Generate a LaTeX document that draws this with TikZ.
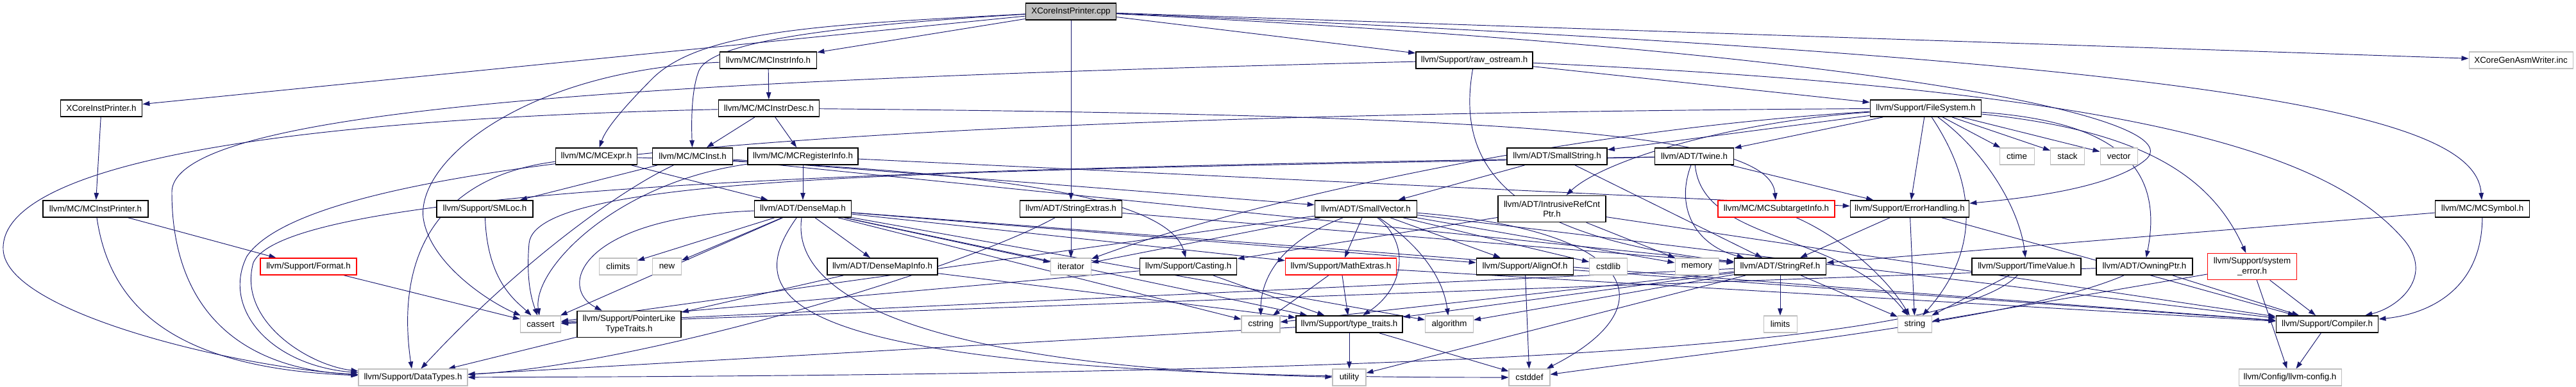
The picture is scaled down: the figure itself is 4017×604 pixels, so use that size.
\documentclass[tikz,border=0pt]{standalone}
\usepackage{fontspec}
\setmainfont{Liberation Sans}
\usetikzlibrary{arrows.meta}
\definecolor{depedge}{HTML}{191970}
\definecolor{sysgray}{HTML}{BFBFBF}
\pgfdeclarelayer{edges}
\pgfsetlayers{edges,main}

\begin{document}
\begin{tikzpicture}[
    x=0.01cm, y=-0.01cm,
    inc/.style={draw=black, line width=0.5pt, fill=white, inner sep=0pt,
      minimum height=0.26cm, align=center,
      font=\fontsize{3.8}{4.4}\selectfont},
    sys/.style={inc, draw=sysgray, line width=0.3pt},
    trunc/.style={inc, draw=red, line width=0.4pt},
    root/.style={inc, fill=sysgray},
    tall/.style={minimum height=0.41cm},
    bw/.style={minimum width=#1*0.01cm},
    dep/.style={draw=depedge, line width=0.27pt,
      -{Triangle[length=0.11cm,width=0.075cm]}},
  ]
  \useasboundingbox (0,0) rectangle (4017,604);

  % headers, one row per rank, 1 unit = 1 px of the graph
  \node[root, bw=141] (cpp) at (1670,18) {XCoreInstPrinter.cpp};

  \node[inc, bw=151] (instrinfo) at (1198,94) {llvm/MC/MCInstrInfo.h};
  \node[inc, bw=182] (rawos) at (2299,94) {llvm/Support/raw\_ostream.h};
  \node[sys, bw=162] (genasm) at (3931,94) {XCoreGenAsmWriter.inc};

  \node[inc, bw=127] (xh) at (158,169) {XCoreInstPrinter.h};
  \node[inc, bw=157] (instrdesc) at (1199,169) {llvm/MC/MCInstrDesc.h};
  \node[inc, bw=173] (fs) at (3003,169) {llvm/Support/FileSystem.h};

  \node[inc, bw=127] (mcexpr) at (930,244) {llvm/MC/MCExpr.h};
  \node[inc, bw=125] (mcinst) at (1080,244) {llvm/MC/MCInst.h};
  \node[inc, bw=172] (reginfo) at (1252,244) {llvm/MC/MCRegisterInfo.h};
  \node[inc, bw=156] (smallstr) at (2428,244) {llvm/ADT/SmallString.h};
  \node[inc, bw=123] (twine) at (2642,244) {llvm/ADT/Twine.h};
  \node[sys, bw=54] (ctime) at (3145,244) {ctime};
  \node[sys, bw=53] (stack) at (3224,244) {stack};
  \node[sys, bw=58] (vector) at (3304,244) {vector};

  \node[inc, bw=164] (instprinter) at (149,326) {llvm/MC/MCInstPrinter.h};
  \node[inc, bw=150] (smloc) at (756,326) {llvm/Support/SMLoc.h};
  \node[inc, bw=151] (densemap) at (1252,326) {llvm/ADT/DenseMap.h};
  \node[inc, bw=159] (strextras) at (1670,326) {llvm/ADT/StringExtras.h};
  \node[inc, bw=159] (smallvec) at (2130,326) {llvm/ADT/SmallVector.h};
  \node[inc, tall, bw=168] (intrusive) at (2420,326) {llvm/ADT/IntrusiveRefCnt\\Ptr.h};
  \node[trunc, bw=182] (subtarget) at (2770,326) {llvm/MC/MCSubtargetInfo.h};
  \node[inc, bw=185] (errhand) at (2978,326) {llvm/Support/ErrorHandling.h};
  \node[inc, bw=147] (mcsymbol) at (3871,326) {llvm/MC/MCSymbol.h};

  \node[trunc, bw=150] (format) at (481,416) {llvm/Support/Format.h};
  \node[sys, bw=59] (climits) at (964,416) {climits};
  \node[sys, bw=45] (newh) at (1040,416) {new};
  \node[inc, bw=172] (dmapinfo) at (1376,416) {llvm/ADT/DenseMapInfo.h};
  \node[sys, bw=63] (iterator) at (1670,416) {iterator};
  \node[inc, bw=151] (casting) at (1853,416) {llvm/Support/Casting.h};
  \node[trunc, bw=173] (mathext) at (2091,416) {llvm/Support/MathExtras.h};
  \node[inc, bw=151] (alignof) at (2378,416) {llvm/Support/AlignOf.h};
  \node[sys, bw=59] (cstdlib) at (2508,416) {cstdlib};
  \node[sys, bw=68] (memory) at (2646,416) {memory};
  \node[inc, bw=143] (stringref) at (2776,416) {llvm/ADT/StringRef.h};
  \node[inc, bw=170] (timevalue) at (3160,416) {llvm/Support/TimeValue.h};
  \node[inc, bw=150] (owningptr) at (3344,416) {llvm/ADT/OwningPtr.h};
  \node[trunc, tall, bw=139] (syserror) at (3512,416) {llvm/Support/system\\\_error.h};

  \node[sys, bw=63] (cassert) at (843,506) {cassert};
  \node[inc, tall, bw=162] (ptrlike) at (981,506) {llvm/Support/PointerLike\\TypeTraits.h};
  \node[sys, bw=60] (cstring) at (1966,506) {cstring};
  \node[inc, bw=166] (typetraits) at (2104,506) {llvm/Support/type\_traits.h};
  \node[sys, bw=75] (algorithm) at (2260,506) {algorithm};
  \node[sys, bw=52] (limits) at (2776,506) {limits};
  \node[sys, bw=53] (string) at (2986,506) {string};
  \node[inc, bw=159] (compiler) at (3629,506) {llvm/Support/Compiler.h};

  \node[sys, bw=170] (datatypes) at (644,589) {llvm/Support/DataTypes.h};
  \node[sys, bw=52] (utility) at (2104,589) {utility};
  \node[sys, bw=64] (cstddef) at (2385,589) {cstddef};
  \node[sys, bw=160] (llvmconfig) at (3571,589) {llvm/Config/llvm-config.h};

  \begin{pgfonlayer}{edges}
  % straight include edges
  \foreach \a/\b in {cpp/xh, cpp/instrinfo, cpp/strextras, cpp/rawos, cpp/genasm,
      xh/instprinter, instprinter/format, format/cassert,
      instrinfo/instrdesc, instrdesc/mcinst, instrdesc/reginfo,
      mcexpr/densemap, mcinst/smloc, mcinst/smallvec, mcinst/stringref,
      reginfo/densemap, reginfo/errhand,
      densemap/climits, densemap/newh, densemap/dmapinfo, densemap/cassert,
      densemap/iterator, densemap/cstring, densemap/mathext, densemap/alignof,
      densemap/typetraits, densemap/algorithm, densemap/compiler,
      dmapinfo/ptrlike, dmapinfo/typetraits, ptrlike/datatypes,
      strextras/iterator, strextras/stringref, rawos/fs,
      fs/smallstr, fs/twine, fs/errhand, fs/ctime, fs/stack, fs/vector,
      smallstr/smallvec, smallstr/stringref, twine/errhand,
      intrusive/casting, intrusive/memory, intrusive/compiler,
      owningptr/compiler, owningptr/cassert, timevalue/string,
      syserror/string, syserror/compiler, syserror/llvmconfig,
      compiler/llvmconfig, mcsymbol/stringref,
      errhand/stringref, errhand/string, errhand/compiler,
      stringref/limits, stringref/string, stringref/typetraits,
      stringref/algorithm, stringref/cassert, stringref/cstring, stringref/utility,
      smallvec/mathext, smallvec/alignof, smallvec/cstdlib, smallvec/memory,
      smallvec/cassert, smallvec/iterator, smallvec/compiler,
      mathext/cstring, mathext/typetraits, mathext/compiler,
      alignof/cstddef, alignof/compiler, casting/cassert, casting/typetraits,
      typetraits/utility, typetraits/cstddef, typetraits/datatypes}
    \draw[dep] (\a) -- (\b);

  % bent edges
  \draw[dep] (cpp) .. controls (1300,38) and (1100,45) .. (1020,120)
    .. controls (975,165) and (945,200) .. (mcexpr);
  \draw[dep] (cpp) .. controls (1300,40) and (1110,65) .. (1090,110)
    .. controls (1078,140) and (1078,190) .. (mcinst);
  \draw[dep] (cpp) .. controls (3500,95) and (3860,180) .. (mcsymbol);
  \draw[dep] (cpp) .. controls (3000,85) and (3420,190) .. (3345,250)
    .. controls (3290,295) and (3150,310) .. (errhand);
  \draw[dep] (instprinter) .. controls (170,470) and (260,575) .. (datatypes);
  \draw[dep] (instrinfo) .. controls (820,110) and (650,250) .. (660,340)
    .. controls (670,410) and (760,470) .. (cassert);
  \draw[dep] (instrdesc) .. controls (2400,180) and (2760,210) .. (subtarget);
  \draw[dep] (instrdesc) .. controls (250,190) and (0,290) .. (5,390)
    .. controls (10,490) and (380,575) .. (datatypes);
  \draw[dep] (mcexpr) .. controls (1500,262) and (1820,300) .. (casting);
  \draw[dep] (mcexpr) .. controls (690,275) and (615,390) .. (datatypes);
  \draw[dep] (mcinst) .. controls (960,300) and (800,420) .. (datatypes);
  \draw[dep] (reginfo) .. controls (960,285) and (830,420) .. (cassert);
  \draw[dep] (smloc) .. controls (760,440) and (805,470) .. (cassert);
  \draw[dep] (densemap) .. controls (900,340) and (870,450) .. (ptrlike);
  \draw[dep] (densemap) .. controls (1230,480) and (1500,575) .. (utility);
  \draw[dep] (densemap) .. controls (1150,470) and (1200,590) .. (cstddef);
  \draw[dep] (strextras) .. controls (1500,420) and (1000,570) .. (datatypes);
  \draw[dep] (rawos) .. controls (1000,125) and (268,170) .. (268,300)
    .. controls (268,470) and (360,575) .. (datatypes);
  \draw[dep] (rawos) .. controls (2270,260) and (2350,370) .. (stringref);
  \draw[dep] (rawos) .. controls (3300,140) and (3620,230) .. (3745,370)
    .. controls (3800,430) and (3740,480) .. (compiler);
  \draw[dep] (fs) .. controls (2700,190) and (2500,250) .. (intrusive);
  \draw[dep] (fs) .. controls (1200,180) and (480,260) .. (385,400)
    .. controls (345,480) and (420,570) .. (datatypes);
  \draw[dep] (fs) .. controls (3090,300) and (3080,400) .. (string);
  \draw[dep] (fs) .. controls (3100,240) and (3150,330) .. (timevalue);
  \draw[dep] (fs) .. controls (3300,190) and (3375,260) .. (owningptr);
  \draw[dep] (fs) .. controls (3350,205) and (3450,280) .. (syserror);
  \draw[dep] (fs) .. controls (2400,205) and (1900,330) .. (iterator);
  \draw[dep] (twine) .. controls (2610,330) and (2650,385) .. (stringref);
  \draw[dep] (twine) .. controls (2655,380) and (2870,360) .. (string);
  \draw[dep] (twine) .. controls (1500,262) and (450,285) .. (395,410)
    .. controls (370,500) and (480,570) .. (datatypes);
  \draw[dep] (twine) .. controls (1500,268) and (835,268) .. (825,380)
    .. controls (820,440) and (830,470) .. (cassert);
  \draw[dep] (owningptr) .. controls (3150,500) and (2700,545) .. (cstddef);
  \draw[dep] (timevalue) .. controls (3050,525) and (2500,585) .. (datatypes);
  \draw[dep] (mcsymbol) .. controls (3870,450) and (3790,490) .. (compiler);
  \draw[dep] (subtarget) .. controls (2870,370) and (2940,430) .. (string);
  \draw[dep] (smallvec) .. controls (1990,380) and (1966,440) .. (cstring);
  \draw[dep] (smallvec) .. controls (2200,380) and (2190,450) .. (typetraits);
  \draw[dep] (smallvec) .. controls (2210,380) and (2250,430) .. (algorithm);
  \draw[dep] (smallvec) .. controls (2560,360) and (2600,480) .. (cstddef);
  \end{pgfonlayer}
\end{tikzpicture}
\end{document}
